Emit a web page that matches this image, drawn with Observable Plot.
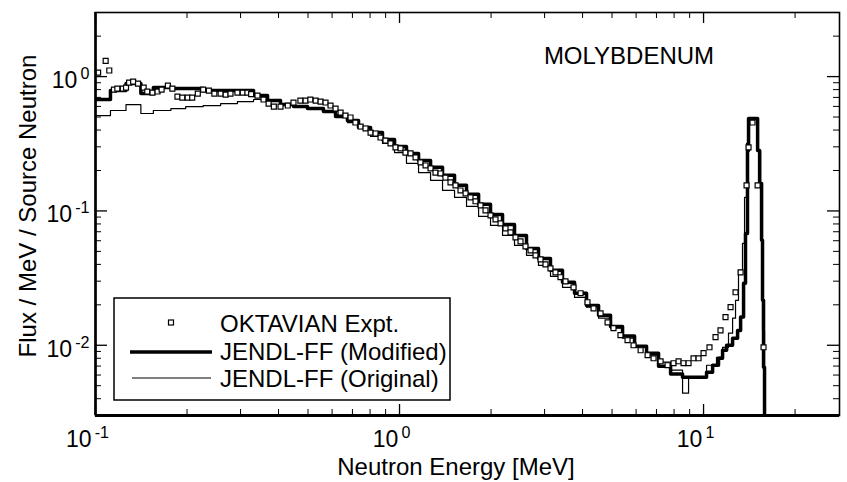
<!DOCTYPE html>
<html><head><meta charset="utf-8">
<script src="https://cdn.jsdelivr.net/npm/d3@7"></script>
<script src="https://cdn.jsdelivr.net/npm/@observablehq/plot@0.6"></script>
<style>body{margin:0;background:#fff}</style>
</head><body><div id="chart"></div>
<script>
// OKTAVIAN experiment (energy MeV, flux / MeV / source neutron)
const expE = [0.102,0.108,0.111,0.115,0.118,0.123,0.126,0.129,0.133,0.138,
  0.144,0.148,0.154,0.160,0.165,0.173,0.179,0.186,0.193,0.201,
  0.208,0.217,0.226,0.236,0.246,0.258,0.268,0.278,0.293,0.305,
  0.316,0.325,0.341,0.357,0.371,0.386,0.406,0.429,0.448,0.472,
  0.491,0.509,0.530,0.550,0.571,0.593,0.616,0.640,0.664,0.690,
  0.716,0.745,0.773,0.803,0.834,0.866,0.899,0.934,0.970,1.008,
  1.046,1.087,1.129,1.172,1.218,1.265,1.313,1.364,1.416,1.471,
  1.528,1.587,1.649,1.712,1.778,1.847,1.918,1.992,2.069,2.149,
  2.232,2.318,2.407,2.500,2.596,2.697,2.801,2.909,3.021,3.137,
  3.258,3.384,3.515,3.735,3.94,4.152,4.347,4.585,4.834,5.056,
  5.33,5.623,5.885,6.209,6.546,6.848,7.223,7.615,7.967,8.276,
  8.594,8.927,9.27,9.63,10.0,10.46,10.95,11.37,11.81,12.27,
  12.74,13.24,13.85,14.06,14.49,15.06,15.75];
const expV = [1.07,1.31,1.11,0.800,0.814,0.814,0.828,0.902,0.918,0.887,
  0.828,0.774,0.760,0.774,0.800,0.857,0.814,0.710,0.698,0.698,
  0.698,0.747,0.800,0.787,0.747,0.747,0.735,0.747,0.760,0.760,
  0.760,0.740,0.722,0.675,0.630,0.598,0.598,0.609,0.641,0.663,
  0.663,0.675,0.663,0.652,0.641,0.609,0.578,0.540,0.513,0.496,
  0.455,0.425,0.411,0.383,0.377,0.352,0.334,0.318,0.297,0.292,
  0.272,0.268,0.250,0.230,0.218,0.207,0.193,0.190,0.177,0.163,
  0.155,0.142,0.135,0.126,0.118,0.110,0.101,0.0926,0.0865,0.0807,
  0.0741,0.0692,0.0635,0.0593,0.0544,0.0508,0.0467,0.0436,0.0400,0.0374,
  0.0349,0.0321,0.0299,0.0270,0.0244,0.0209,0.0188,0.0173,0.0148,0.0134,
  0.0119,0.0109,0.0100,0.00918,0.00843,0.00800,0.00760,0.00710,0.00735,0.00760,
  0.00735,0.00735,0.00800,0.00800,0.00873,0.00966,0.0115,0.0129,0.0162,0.0192,
  0.0248,0.0349,0.155,0.297,0.455,0.155,0.00966];

// JENDL-FF (Modified): group lower edges (MeV) and values
const modE = [0.1,0.112,0.126,0.141,0.155,0.177,0.198,0.226,0.258,0.293,
  0.331,0.368,0.406,0.448,0.498,0.562,0.616,0.674,0.733,0.803,
  0.879,0.963,1.054,1.155,1.265,1.385,1.517,1.661,1.820,1.992,
  2.182,2.389,2.616,2.865,3.137,3.436,3.764,4.122,4.515,4.944,
  5.415,5.93,6.494,7.112,7.79,8.53,10.23,10.71,11.20,11.55,
  11.91,12.46,12.94,13.24,13.54,13.74,13.95,14.06,15.06,15.29,
  15.52,15.63,15.75,15.87];
const modV = [0.675,0.787,0.887,0.747,0.828,0.814,0.814,0.787,0.787,0.787,
  0.722,0.663,0.619,0.598,0.578,0.549,0.504,0.471,0.418,0.383,
  0.340,0.302,0.268,0.237,0.211,0.184,0.155,0.133,0.112,0.0942,
  0.0794,0.0657,0.0526,0.0443,0.0361,0.0294,0.0244,0.0198,0.0167,0.0138,
  0.0117,0.00983,0.00872,0.00698,0.0061,0.00578,0.0063,0.0071,0.0080,0.00918,
  0.0100,0.0113,0.0129,0.0162,0.0289,0.068,0.282,0.487,0.282,0.160,
  0.0604,0.0216,0.00686,0.001];

// JENDL-FF (Original)
const origE = [0.1,0.112,0.126,0.141,0.155,0.177,0.198,0.226,0.258,0.293,
  0.331,0.368,0.406,0.448,0.498,0.562,0.616,0.674,0.733,0.803,
  0.879,0.963,1.054,1.155,1.265,1.385,1.517,1.661,1.820,1.992,
  2.182,2.389,2.616,2.865,3.137,3.436,3.764,4.122,4.515,4.944,
  5.415,5.93,6.494,7.112,7.79,8.53,8.927,10.23,11.03,11.55,
  12.08,12.46,12.74,13.03,13.43,13.64,13.85,14.06,15.06,15.40,
  15.63,15.87];
const origV = [0.513,0.559,0.619,0.531,0.559,0.578,0.598,0.609,0.630,0.652,
  0.675,0.663,0.630,0.609,0.588,0.559,0.522,0.455,0.411,0.358,
  0.318,0.272,0.226,0.193,0.169,0.142,0.126,0.108,0.0910,0.0780,
  0.0657,0.0554,0.0467,0.0393,0.0326,0.0270,0.0227,0.0192,0.0159,0.0134,
  0.0113,0.00966,0.00843,0.00748,0.00652,0.00440,0.00578,0.0071,0.00814,0.00966,
  0.0123,0.0159,0.0216,0.0361,0.0573,0.126,0.318,0.487,0.282,0.0604,
  0.0129,0.001];

const xDomain = [0.1, 28];
const yDomain = [0.003, 3];
const xMajorTicks = [0.1, 1, 10];
const xMinorTicks = [0.2,0.3,0.4,0.5,0.6,0.7,0.8,0.9,2,3,4,5,6,7,8,9,20];
const yMajorTicks = [0.01, 0.1, 1];
const yMinorTicks = [0.003,0.004,0.005,0.006,0.007,0.008,0.009,0.02,0.03,0.04,0.05,0.06,0.07,0.08,0.09,0.2,0.3,0.4,0.5,0.6,0.7,0.8,0.9,2,3];

const seriesNames = ["OKTAVIAN Expt.", "JENDL-FF (Modified)", "JENDL-FF (Original)"];

const expData = expE.map((e, i) => ({e, v: expV[i]}));
const modData = modE.map((e, i) => ({e, v: modV[i]}));
const origData = origE.map((e, i) => ({e, v: origV[i]}));

const W = 847, Hh = 482, mL = 95, mR = 8, mT = 12, mB = 67;
const PW = W - mL - mR, PH = Hh - mT - mB;
const expo = d => String(Math.round(Math.log10(d)));

const svgEl = Plot.plot({
  width: W, height: Hh,
  marginLeft: mL, marginRight: mR, marginTop: mT, marginBottom: mB,
  x: {type: "log", domain: xDomain},
  y: {type: "log", domain: yDomain},
  style: {fontFamily: "'Liberation Sans', Arial, Helvetica, sans-serif", fontSize: "23px", background: "white", color: "black"},
  marks: [
    Plot.line(origData, {x: "e", y: "v", curve: "step-after", stroke: "black", strokeWidth: 1.2, clip: true}),
    Plot.line(modData, {x: "e", y: "v", curve: "step-after", stroke: "black", strokeWidth: 3.5, clip: true}),
    Plot.dot(expData, {x: "e", y: "v", symbol: "square", r: 2.8, stroke: "black", fill: "white", strokeWidth: 1.2}),
    Plot.tickX(xMinorTicks, {x: d => d, insetTop: PH - 6, stroke: "black", strokeWidth: 1}),
    Plot.tickX(xMinorTicks, {x: d => d, insetBottom: PH - 6, stroke: "black", strokeWidth: 1}),
    Plot.tickX(xMajorTicks, {x: d => d, insetTop: PH - 11, stroke: "black", strokeWidth: 1.3}),
    Plot.tickX(xMajorTicks, {x: d => d, insetBottom: PH - 11, stroke: "black", strokeWidth: 1.3}),
    Plot.tickY(yMinorTicks, {y: d => d, insetRight: PW - 6, stroke: "black", strokeWidth: 1}),
    Plot.tickY(yMinorTicks, {y: d => d, insetLeft: PW - 6, stroke: "black", strokeWidth: 1}),
    Plot.tickY(yMajorTicks, {y: d => d, insetRight: PW - 12, stroke: "black", strokeWidth: 1.3}),
    Plot.tickY(yMajorTicks, {y: d => d, insetLeft: PW - 12, stroke: "black", strokeWidth: 1.3}),
    Plot.frame({stroke: "black", strokeWidth: 1.6}),
    Plot.ruleX([xDomain[0]], {stroke: "black", strokeWidth: 2.6}),
    Plot.ruleY([yDomain[0]], {stroke: "black", strokeWidth: 3}),
    Plot.axisX({ticks: xMajorTicks, tickSize: 0, tickPadding: 15, dx: -8, tickFormat: expo, label: null}),
    Plot.axisY({ticks: yMajorTicks, tickSize: 0, tickPadding: 6, dy: 4, tickFormat: expo, label: null})
  ]
});

const svg = d3.select(svgEl);
svg.selectAll('g[aria-label="x-axis tick label"] text, g[aria-label="y-axis tick label"] text').each(function() {
  const t = d3.select(this);
  const ex = t.text();
  t.text("10");
  t.append("tspan").attr("dy", "-0.55em").attr("dx", "0.2em").attr("font-size", "0.7em").text(ex);
});

// axis titles and annotation
svg.append("text").attr("x", 456).attr("y", 475).attr("text-anchor", "middle")
  .attr("font-size", 24).attr("fill", "black").text("Neutron Energy [MeV]");
svg.append("text").attr("transform", "translate(36,206) rotate(-90)").attr("text-anchor", "middle")
  .attr("font-size", 24).attr("fill", "black").text("Flux / MeV / Source Neutron");
svg.append("text").attr("x", 629).attr("y", 64).attr("text-anchor", "middle")
  .attr("font-size", 24).attr("fill", "black").text("MOLYBDENUM");

// legend
const lg = svg.append("g");
lg.append("rect").attr("x", 114).attr("y", 298).attr("width", 336).attr("height", 102)
  .attr("fill", "white").attr("stroke", "black").attr("stroke-width", 1.5);
lg.append("rect").attr("x", 168.5).attr("y", 320).attr("width", 5).attr("height", 5)
  .attr("fill", "white").attr("stroke", "black").attr("stroke-width", 1.2);
lg.append("line").attr("x1", 130).attr("x2", 212).attr("y1", 352).attr("y2", 352)
  .attr("stroke", "black").attr("stroke-width", 3.5);
lg.append("line").attr("x1", 132).attr("x2", 211).attr("y1", 378).attr("y2", 378)
  .attr("stroke", "black").attr("stroke-width", 1.2);
[332, 360, 387].forEach((y, i) => {
  lg.append("text").attr("x", 220).attr("y", y).attr("text-anchor", "start")
    .attr("font-size", 24).attr("fill", "black").text(seriesNames[i]);
});

document.getElementById("chart").append(svgEl);
</script></body></html>
